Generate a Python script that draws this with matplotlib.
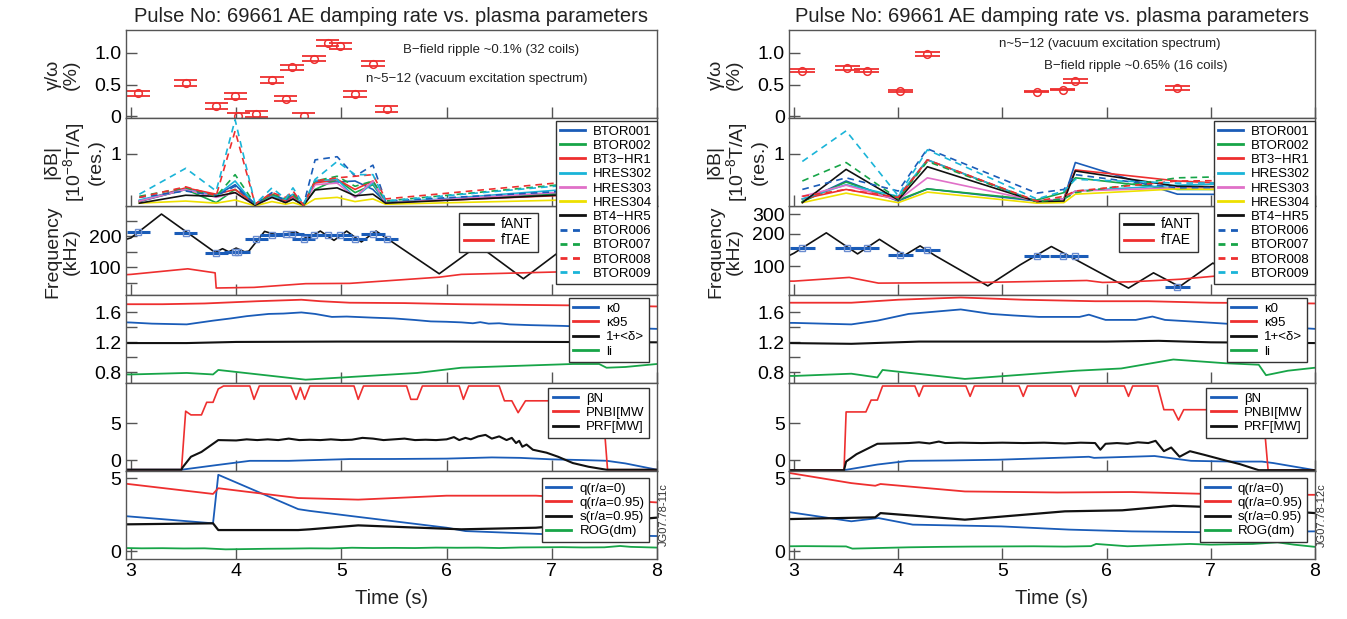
import matplotlib.pyplot as plt
import numpy as np

plt.rcParams['font.family'] = ['Liberation Sans', 'DejaVu Sans']
plt.rcParams['mathtext.fontset'] = 'custom'
plt.rcParams['mathtext.rm'] = 'Liberation Sans'
plt.rcParams['mathtext.it'] = 'Liberation Sans:italic'

# ---------------- left pulse (32 coils) ----------------
L_t_gam = [3.07, 3.52, 3.81, 3.99, 4.02, 4.19, 4.34, 4.47, 4.53, 4.64, 4.74, 4.87, 4.99, 5.13, 5.30, 5.43]
L_gam = [0.36, 0.52, 0.165, 0.32, 0.0, 0.04, 0.57, 0.28, 0.77, 0.0, 0.91, 1.16, 1.11, 0.35, 0.83, 0.12]
L_freq_pts = [214, 211, 145, 150, 150, 193, 205, 207, 208, 193, 205, 205, 203, 190, 208, 190]

L_t_db = [3.08, 3.52, 3.81, 3.99, 4.18, 4.34, 4.47, 4.54, 4.64, 4.75, 4.96, 5.13, 5.30, 5.42, 8.0]
L_BTOR001 = [0.09, 0.32, 0.21, 0.41, 0.04, 0.21, 0.09, 0.19, 0.02, 0.48, 0.46, 0.48, 0.32, 0.07, 0.35]
L_BTOR002 = [0.10, 0.32, 0.07, 0.32, 0.04, 0.20, 0.07, 0.14, 0.02, 0.32, 0.51, 0.26, 0.41, 0.07, 0.33]
L_BT3_HR1 = [0.10, 0.35, 0.23, 0.32, 0.04, 0.23, 0.10, 0.19, 0.04, 0.44, 0.51, 0.32, 0.48, 0.07, 0.28]
L_HRES302 = [0.12, 0.32, 0.20, 0.48, 0.02, 0.19, 0.14, 0.23, 0.02, 0.49, 0.51, 0.17, 0.44, 0.06, 0.45]
L_HRES303 = [0.10, 0.32, 0.17, 0.26, 0.02, 0.17, 0.07, 0.15, 0.02, 0.41, 0.44, 0.17, 0.48, 0.06, 0.38]
L_HRES304 = [0.06, 0.10, 0.06, 0.12, 0.01, 0.09, 0.04, 0.07, 0.01, 0.14, 0.17, 0.09, 0.14, 0.04, 0.16]
L_BT4_HR5 = [0.06, 0.21, 0.19, 0.26, 0.02, 0.17, 0.07, 0.14, 0.02, 0.31, 0.35, 0.20, 0.23, 0.06, 0.30]
L_BTOR006 = [0.17, 0.29, 0.20, 0.38, 0.04, 0.26, 0.10, 0.26, 0.02, 0.88, 0.94, 0.57, 0.78, 0.10, 0.38]
L_BTOR007 = [0.19, 0.35, 0.19, 0.60, 0.04, 0.23, 0.14, 0.23, 0.02, 0.48, 0.57, 0.38, 0.48, 0.10, 0.58]
L_BTOR008 = [0.17, 0.37, 0.20, 1.43, 0.04, 0.26, 0.17, 0.29, 0.02, 0.48, 0.54, 0.57, 0.60, 0.14, 0.62]
L_BTOR009 = [0.23, 0.72, 0.29, 1.64, 0.04, 0.35, 0.14, 0.35, 0.04, 0.51, 0.85, 0.60, 0.60, 0.10, 0.55]

L_t_fant = [2.95, 3.0, 3.29, 3.80, 3.87, 3.93, 4.0, 4.08, 4.12, 4.27, 4.40, 4.57, 4.68, 4.80, 4.93,
            5.05, 5.19, 5.33, 5.93, 6.30, 6.73, 7.07, 7.5, 8.0]
L_fant = [190, 195, 272, 148, 160, 150, 162, 150, 152, 216, 203, 214, 193, 217, 187,
          217, 182, 217, 79, 171, 63, 150, 230, 160]
L_t_ftae = [2.95, 3.0, 3.54, 3.80, 3.81, 4.17, 4.66, 5.08, 5.93, 6.14, 7.07, 8.0]
L_ftae = [76, 77, 95, 82, 33, 35, 47, 48, 68, 77, 85, 90]

L_t_k0 = [2.95, 3.0, 3.2, 3.53, 3.78, 3.95, 4.1, 4.31, 4.45, 4.62, 4.75, 4.91, 5.05, 5.3, 5.5, 5.69,
          5.85, 6.0, 6.14, 6.25, 6.32, 6.4, 6.5, 6.6, 6.8, 7.1, 7.5, 8.0]
L_k0 = [1.467, 1.465, 1.45, 1.44, 1.49, 1.52, 1.55, 1.58, 1.585, 1.60, 1.58, 1.54, 1.545, 1.53, 1.52, 1.50,
        1.48, 1.475, 1.467, 1.455, 1.47, 1.45, 1.455, 1.44, 1.43, 1.42, 1.40, 1.38]
L_t_k95 = [2.95, 3.3, 3.7, 4.2, 4.62, 4.8, 5.08, 5.6, 6.14, 6.8, 7.5, 8.0]
L_k95 = [1.71, 1.71, 1.72, 1.75, 1.77, 1.75, 1.73, 1.725, 1.71, 1.70, 1.69, 1.68]
L_t_d = [2.95, 3.53, 4.0, 5.0, 6.0, 7.0, 8.0]
L_d = [1.19, 1.19, 1.205, 1.21, 1.21, 1.205, 1.20]
L_t_li = [2.95, 3.0, 3.53, 3.78, 3.83, 4.66, 5.72, 6.14, 7.2, 7.45, 7.52, 7.7, 8.0]
L_li = [0.77, 0.77, 0.79, 0.77, 0.83, 0.70, 0.79, 0.86, 0.91, 0.91, 0.86, 0.87, 0.91]

L_t_nbi = [2.95, 3.48, 3.52, 3.57, 3.67, 3.72, 3.78, 3.83, 3.88, 4.13, 4.17, 4.22, 4.52, 4.57, 4.61, 4.65,
           4.70, 5.12, 5.16, 5.21, 5.62, 5.66, 5.72, 5.77, 6.12, 6.16, 6.21, 6.50, 6.55, 6.62, 6.68,
           6.75, 7.48, 7.53, 8.0]
L_nbi = [-1.3, -1.3, 6.6, 6.1, 6.1, 7.8, 7.8, 9.6, 10.0, 10.0, 8.2, 10.0, 10.0, 8.2, 9.8, 8.2,
         10.0, 10.0, 8.2, 10.0, 10.0, 8.2, 8.2, 10.0, 10.0, 8.2, 10.0, 10.0, 8.0, 8.0, 6.4,
         8.0, 8.0, -1.3, -1.3]
L_t_prf = [2.95, 3.48, 3.49, 3.57, 3.67, 3.83, 4.0, 4.1, 4.2, 4.3, 4.4, 4.5, 4.6, 4.7, 4.8, 4.9, 5.0,
           5.1, 5.2, 5.3, 5.4, 5.5, 5.6, 5.7, 5.8, 5.9, 6.0, 6.07, 6.12, 6.18, 6.23, 6.30, 6.37, 6.43,
           6.50, 6.57, 6.62, 6.66, 6.69, 6.72, 6.76, 6.82, 6.95, 7.06, 7.20, 7.35, 7.52, 8.0]
L_prf = [-1.3, -1.3, -1.0, 0.45, 1.1, 2.7, 2.65, 2.8, 2.7, 2.8, 2.7, 2.9, 2.7, 2.75, 2.7, 2.8, 2.7,
         2.75, 3.0, 2.9, 2.7, 2.8, 2.9, 2.7, 2.75, 2.7, 2.8, 3.1, 2.7, 3.0, 2.8, 3.2, 3.4, 2.9,
         3.2, 2.7, 3.0, 2.3, 2.6, 1.8, 2.1, 1.4, 1.0, 0.45, -0.4, -0.9, -1.3, -1.3]
L_t_bn = [2.95, 3.48, 3.8, 4.13, 4.5, 5.08, 5.5, 6.0, 6.43, 6.7, 7.0, 7.3, 7.52, 7.7, 8.0]
L_bn = [-1.3, -1.3, -0.7, -0.1, -0.1, 0.14, 0.15, 0.2, 0.36, 0.3, 0.1, 0.0, -0.09, -0.45, -1.3]

L_t_q0 = [2.95, 3.78, 3.83, 4.59, 4.70, 5.08, 6.0, 6.18, 7.0, 8.0]
L_q0 = [2.4, 1.91, 5.23, 2.88, 2.76, 2.42, 1.61, 1.38, 1.15, 1.04]
L_t_q95 = [2.95, 3.78, 3.83, 4.59, 5.16, 6.0, 6.85, 8.0]
L_q95 = [4.62, 3.92, 4.31, 3.64, 3.53, 3.80, 3.80, 3.34]
L_t_s = [2.95, 3.78, 3.83, 4.59, 4.7, 5.16, 6.14, 6.85, 8.0]
L_s = [1.84, 1.91, 1.45, 1.45, 1.5, 1.77, 1.5, 1.61, 2.30]
L_t_rog = [2.95, 3.1, 3.3, 3.5, 3.7, 3.9, 4.1, 4.3, 4.5, 4.7, 4.9, 5.1, 5.3, 5.5, 5.7, 5.9, 6.1, 6.3,
           6.5, 6.7, 6.9, 7.1, 7.3, 7.5, 7.65, 7.75, 8.0]
L_rog = [0.22, 0.2, 0.21, 0.19, 0.2, 0.13, 0.15, 0.17, 0.18, 0.2, 0.19, 0.24, 0.22, 0.23, 0.22, 0.25,
         0.24, 0.25, 0.22, 0.26, 0.27, 0.28, 0.26, 0.27, 0.36, 0.3, 0.25]

# ---------------- right pulse (16 coils) ----------------
R_t_gam = [3.08, 3.51, 3.70, 4.02, 4.28, 5.33, 5.58, 5.70, 6.68]
R_gam = [0.72, 0.755, 0.72, 0.40, 0.98, 0.39, 0.42, 0.56, 0.45]
R_gam_dy = [0.03, 0.03, 0.03, 0.01, 0.03, 0.01, 0.01, 0.03, 0.03]
R_freq_pts = [146, 148, 148, 127, 141, 124, 124, 125, 65]

R_t_db = [3.08, 3.50, 4.00, 4.28, 5.33, 5.59, 5.70, 6.68, 8.0]
R_BTOR001 = [0.09, 0.48, 0.10, 0.33, 0.10, 0.14, 0.83, 0.23, 0.22]
R_BTOR002 = [0.09, 0.46, 0.12, 0.33, 0.12, 0.26, 0.54, 0.32, 0.32]
R_BT3_HR1 = [0.14, 0.32, 0.14, 0.88, 0.09, 0.14, 0.69, 0.48, 0.35]
R_HRES302 = [0.14, 0.41, 0.19, 0.88, 0.09, 0.14, 0.29, 0.40, 0.48]
R_HRES303 = [0.19, 0.40, 0.12, 0.54, 0.10, 0.14, 0.29, 0.35, 0.35]
R_HRES304 = [0.07, 0.25, 0.07, 0.27, 0.06, 0.07, 0.23, 0.33, 0.30]
R_BT4_HR5 = [0.07, 0.70, 0.12, 0.75, 0.09, 0.10, 0.67, 0.38, 0.35]
R_BTOR006 = [0.32, 0.54, 0.29, 1.09, 0.25, 0.32, 0.60, 0.35, 0.38]
R_BTOR007 = [0.48, 0.83, 0.14, 0.85, 0.09, 0.14, 0.26, 0.54, 0.60]
R_BTOR008 = [0.19, 0.32, 0.17, 0.88, 0.10, 0.19, 0.29, 0.48, 0.50]
R_BTOR009 = [0.85, 1.43, 0.20, 1.07, 0.14, 0.29, 0.51, 0.44, 0.45]

R_t_fant = [2.95, 3.0, 3.31, 3.61, 3.82, 4.06, 4.21, 4.35, 4.86, 5.17, 5.47, 6.21, 6.45, 6.70, 7.02, 7.35, 7.7, 8.0]
R_fant = [125, 132, 203, 130, 177, 126, 154, 126, 66, 103, 152, 63, 87, 65, 107, 69, 110, 95]
R_t_ftae = [2.95, 3.0, 3.53, 3.81, 4.81, 5.81, 5.96, 6.24, 6.71, 7.03, 8.0]
R_ftae = [73, 73, 79, 70, 71, 74, 71, 72, 76, 81, 85]

R_t_k0 = [2.95, 3.0, 3.55, 3.8, 4.10, 4.35, 4.6, 4.89, 5.1, 5.35, 5.74, 5.83, 5.99, 6.28, 6.44, 6.56,
          6.8, 7.14, 7.5, 8.0]
R_k0 = [1.46, 1.46, 1.44, 1.49, 1.58, 1.61, 1.64, 1.58, 1.56, 1.54, 1.54, 1.57, 1.50, 1.50, 1.545, 1.50,
        1.48, 1.45, 1.42, 1.38]
R_t_k95 = [2.95, 3.55, 4.0, 4.6, 5.2, 5.89, 6.4, 7.0, 8.0]
R_k95 = [1.73, 1.73, 1.77, 1.80, 1.77, 1.75, 1.75, 1.73, 1.72]
R_t_d = [2.95, 3.55, 4.2, 5.0, 6.0, 6.5, 7.0, 8.0]
R_d = [1.19, 1.18, 1.21, 1.21, 1.21, 1.22, 1.20, 1.19]
R_t_li = [2.95, 3.0, 3.55, 3.80, 3.85, 4.64, 5.71, 6.14, 6.64, 7.14, 7.46, 7.53, 7.74, 8.0]
R_li = [0.75, 0.75, 0.78, 0.73, 0.83, 0.71, 0.82, 0.85, 0.97, 0.92, 0.90, 0.76, 0.82, 0.86]

R_t_nbi = [2.95, 3.48, 3.50, 3.69, 3.74, 3.80, 3.85, 4.16, 4.20, 4.24, 4.65, 4.69, 4.73, 5.16, 5.20,
           5.24, 5.66, 5.70, 5.74, 6.17, 6.21, 6.25, 6.49, 6.55, 6.64, 6.69, 6.74, 7.50, 7.55, 8.0]
R_nbi = [-1.36, -1.36, 6.5, 6.5, 8.1, 8.1, 10.0, 10.0, 8.6, 10.0, 10.0, 8.6, 10.0, 10.0, 8.6,
         10.0, 10.0, 8.6, 10.0, 10.0, 8.6, 10.0, 10.0, 6.8, 6.8, 5.4, 6.8, 6.8, -1.36, -1.36]
R_t_prf = [2.95, 3.48, 3.50, 3.60, 3.80, 3.95, 4.1, 4.2, 4.3, 4.39, 4.45, 4.6, 4.8, 5.0, 5.2, 5.4,
           5.6, 5.75, 5.89, 5.94, 5.99, 6.1, 6.2, 6.3, 6.4, 6.47, 6.55, 6.62, 6.70, 6.80, 6.94,
           7.10, 7.28, 7.46, 8.0]
R_prf = [-1.36, -1.36, -0.2, 0.8, 2.2, 2.25, 2.3, 2.4, 2.25, 2.5, 2.3, 2.35, 2.3, 2.35, 2.3, 2.35,
         2.25, 2.35, 2.3, 1.4, 2.2, 2.3, 2.2, 2.4, 2.3, 2.6, 1.2, 1.7, 0.45, 1.2, 0.7,
         0.1, -0.55, -1.36, -1.36]
R_t_bn = [2.95, 3.48, 3.8, 4.1, 4.5, 4.96, 5.4, 5.83, 5.88, 6.0, 6.46, 6.81, 7.2, 7.49, 7.6, 8.0]
R_bn = [-1.36, -1.36, -0.6, -0.1, -0.05, 0.05, 0.25, 0.45, 0.3, 0.35, 0.55, -0.1, -0.2, -0.2, -0.4, -1.36]

R_t_q0 = [2.95, 3.55, 3.81, 4.14, 4.99, 5.64, 6.24, 6.96, 8.0]
R_q0 = [2.68, 2.05, 2.27, 1.82, 1.70, 1.48, 1.36, 1.30, 1.36]
R_t_q95 = [2.95, 3.55, 3.78, 3.83, 4.1, 4.64, 5.53, 6.24, 7.31, 8.0]
R_q95 = [5.36, 4.66, 4.48, 4.6, 4.43, 4.09, 4.02, 4.05, 3.86, 3.86]
R_t_s = [2.95, 3.78, 3.83, 4.64, 5.6, 6.15, 6.64, 7.31, 8.0]
R_s = [2.2, 2.32, 2.61, 2.16, 2.73, 2.80, 3.11, 2.95, 2.61]
R_t_rog = [2.95, 3.1, 3.3, 3.5, 3.56, 3.8, 4.1, 4.4, 4.7, 5.0, 5.3, 5.6, 5.85, 5.9, 6.2, 6.5, 6.8,
           7.0, 7.2, 7.4, 7.64, 7.8, 8.0]
R_rog = [0.34, 0.35, 0.34, 0.33, 0.18, 0.22, 0.27, 0.3, 0.32, 0.33, 0.34, 0.32, 0.35, 0.5, 0.34, 0.42,
         0.5, 0.45, 0.48, 0.5, 0.61, 0.45, 0.30]

coil_names = ['BTOR001', 'BTOR002', 'BT3\u2212HR1', 'HRES302', 'HRES303', 'HRES304',
              'BT4\u2212HR5', 'BTOR006', 'BTOR007', 'BTOR008', 'BTOR009']

# colours
BLUE = '#1a5cb8'
GREEN = '#17a548'
RED = '#ee2f2f'
CYAN = '#1ab4d8'
MAG = '#e070c8'
YEL = '#eee000'
BLK = '#111111'
GRAY = '#555555'

coil_colors = [BLUE, GREEN, RED, CYAN, MAG, YEL, BLK, BLUE, GREEN, RED, CYAN]
coil_styles = ['-'] * 7 + ['--'] * 4

fig = plt.figure(figsize=(13.47, 6.19), dpi=100)
fig.patch.set_facecolor('white')

bottom = 1 - 559 / 619
top = 1 - 30 / 619
h = (top - bottom) / 6


def make_axes(x0, w):
    axs = []
    for i in range(6):
        ax = fig.add_axes([x0, bottom + (5 - i) * h, w, h])
        ax.set_xlim(2.95, 8.0)
        ax.set_xticks([3, 4, 5, 6, 7, 8])
        ax.tick_params(direction='in', length=8, width=1, color=GRAY, labelsize=14,
                       top=False, right=False, pad=3)
        ax.tick_params(which='minor', direction='in', length=8, width=1, color=GRAY)
        for sp in ax.spines.values():
            sp.set_color(GRAY)
            sp.set_linewidth(1)
        if i < 5:
            ax.tick_params(labelbottom=False)
        axs.append(ax)
    return axs


def leg(ax, anchor, loc='upper right', fs=9.5, hlen=1.9):
    lg = ax.legend(loc=loc, bbox_to_anchor=anchor, fontsize=fs, fancybox=False,
                   edgecolor='#333333', framealpha=1, borderpad=0.35, labelspacing=0.15,
                   handlelength=hlen, handletextpad=0.6, borderaxespad=0)
    lg.get_frame().set_linewidth(1)
    for hl in lg.get_lines():
        hl.set_linewidth(2)
    return lg


def draw(axs, t_gam, gam, gw, gdy, txt, t_db, coils, freq_pts, fw, t_fant, fant, t_ftae, ftae,
         k0, k95, dd, li, nbi, prf, bn, q0, q95, ss, rog, logf, tag, xlab_x):
    ax1, ax2, ax3, ax4, ax5, ax6 = axs

    # damping rate with time-window bars
    t_gam = np.array(t_gam)
    gam = np.array(gam)
    gdy = np.array(gdy)
    ax1.hlines(gam + gdy, t_gam - gw, t_gam + gw, color=RED, lw=1.3)
    ax1.hlines(gam - gdy, t_gam - gw, t_gam + gw, color=RED, lw=1.3)
    ax1.plot(t_gam, gam, 'o', mfc='none', mec=RED, ms=5.5, mew=1.1)
    ax1.set_ylim(-0.03, 1.36)
    ax1.set_yticks([0, 0.5, 1.0])
    ax1.set_yticklabels(['0', '0.5', '1.0'])
    for (tx, ty, s) in txt:
        ax1.text(tx, ty, s, fontsize=9.5, ha='center', va='center', color='#222222')
    ax1.set_title('Pulse No: 69661 AE damping rate vs. plasma parameters', fontsize=14.5, pad=6,
                  color='#222222')

    # delta B amplitudes
    for vals, c, ls, name in zip(coils, coil_colors, coil_styles, coil_names):
        if ls == '--':
            ax2.plot(t_db, vals, color=c, lw=1.2, dashes=(4, 3), label=name)
        else:
            ax2.plot(t_db, vals, color=c, lw=1.2, label=name)
    ax2.set_ylim(0, 1.67)
    ax2.set_yticks([1])
    ax2.set_zorder(5)
    lg = leg(ax2, (1.0, 0.97))
    for hl in lg.get_lines()[7:]:
        hl.set_dashes((2.5, 2))

    # frequency
    ax3.plot(t_fant, fant, color=BLK, lw=1.2, label='fANT')
    ax3.plot(t_ftae, ftae, color=RED, lw=1.2, label='fTAE')
    ax3.hlines(freq_pts, t_gam - fw, t_gam + fw, color=BLUE, lw=2.2)
    ax3.plot(t_gam, freq_pts, 's', mfc='none', mec='#6a8cd0', ms=5, mew=1)
    if logf:
        ax3.set_yscale('log')
        ax3.set_ylim(55, 356)
        ax3.set_yticks([100, 200, 300])
        ax3.set_yticklabels(['100', '200', '300'])
        ax3.yaxis.set_minor_locator(plt.NullLocator())
    else:
        ax3.set_ylim(12, 297)
        ax3.set_yticks([100, 200])
        ax3.set_yticks([50, 150, 250], minor=True)
    leg(ax3, (0.627, 0.93), loc='upper left', fs=10, hlen=2.1)

    # shape
    ax4.plot(k0[0], k0[1], color=BLUE, lw=1.3, label='\u03ba0')
    ax4.plot(k95[0], k95[1], color=RED, lw=1.3, label='\u03ba95')
    ax4.plot(dd[0], dd[1], color=BLK, lw=1.5, label='1+<\u03b4>')
    ax4.plot(li[0], li[1], color=GREEN, lw=1.3, label='li')
    ax4.set_ylim(0.66, 1.84)
    ax4.set_yticks([0.8, 1.2, 1.6])
    ax4.set_yticks([1.0, 1.4], minor=True)
    leg(ax4, (0.985, 0.96))

    # heating
    ax5.plot(bn[0], bn[1], color=BLUE, lw=1.3, label='\u03b2N')
    ax5.plot(nbi[0], nbi[1], color=RED, lw=1.2, label='PNBI[MW')
    ax5.plot(prf[0], prf[1], color=BLK, lw=1.5, label='PRF[MW]')
    ax5.set_ylim(-1.45, 10.45)
    ax5.set_yticks([0, 5])
    leg(ax5, (0.985, 0.94))

    # q profile
    ax6.plot(q0[0], q0[1], color=BLUE, lw=1.3, label='q(r/a=0)')
    ax6.plot(q95[0], q95[1], color=RED, lw=1.3, label='q(r/a=0.95)')
    ax6.plot(ss[0], ss[1], color=BLK, lw=1.6, label='s(r/a=0.95)')
    ax6.plot(rog[0], rog[1], color=GREEN, lw=1.3, label='ROG(dm)')
    ax6.set_ylim(-0.53, 5.5)
    ax6.set_yticks([0, 5])
    leg(ax6, (0.985, 0.92))
    ax6.set_xlabel('Time (s)', fontsize=14.5, labelpad=6, color='#222222')
    ax6.text(1.012, 0.5, tag, transform=ax6.transAxes, rotation=90, fontsize=8,
             ha='center', va='center', color='#333333')

    # y labels
    lab = dict(rotation=90, ha='center', va='center', fontsize=14, color='#222222',
               linespacing=1.05)
    fig.text(xlab_x / 1347, 1 - 75 / 619, '\u03b3/\u03c9\n(%)', **lab)
    fig.text((xlab_x + 12) / 1347, 1 - 162 / 619, '|\u03b4B|\n[10$^{-8}$T/A]\n(res.)', **lab)
    fig.text(xlab_x / 1347, 1 - 252 / 619, 'Frequency\n(kHz)', **lab)


L_axes = make_axes(125.7 / 1347, 531.3 / 1347)
R_axes = make_axes(788.8 / 1347, 526.2 / 1347)

draw(L_axes, L_t_gam, L_gam, 0.11, 0.045,
     [(6.42, 1.04, 'B\u2212field ripple ~0.1% (32 coils)'),
      (6.29, 0.58, 'n~5\u221212 (vacuum excitation spectrum)')],
     L_t_db, [L_BTOR001, L_BTOR002, L_BT3_HR1, L_HRES302, L_HRES303, L_HRES304, L_BT4_HR5,
              L_BTOR006, L_BTOR007, L_BTOR008, L_BTOR009],
     L_freq_pts, 0.11, L_t_fant, L_fant, L_t_ftae, L_ftae,
     (L_t_k0, L_k0), (L_t_k95, L_k95), (L_t_d, L_d), (L_t_li, L_li),
     (L_t_nbi, L_nbi), (L_t_prf, L_prf), (L_t_bn, L_bn),
     (L_t_q0, L_q0), (L_t_q95, L_q95), (L_t_s, L_s), (L_t_rog, L_rog),
     False, 'JG07.78-11c', 62)

draw(R_axes, R_t_gam, R_gam, 0.12, R_gam_dy,
     [(6.03, 1.14, 'n~5\u221212 (vacuum excitation spectrum)'),
      (6.28, 0.80, 'B\u2212field ripple ~0.65% (16 coils)')],
     R_t_db, [R_BTOR001, R_BTOR002, R_BT3_HR1, R_HRES302, R_HRES303, R_HRES304, R_BT4_HR5,
              R_BTOR006, R_BTOR007, R_BTOR008, R_BTOR009],
     R_freq_pts, 0.12, R_t_fant, R_fant, R_t_ftae, R_ftae,
     (R_t_k0, R_k0), (R_t_k95, R_k95), (R_t_d, R_d), (R_t_li, R_li),
     (R_t_nbi, R_nbi), (R_t_prf, R_prf), (R_t_bn, R_bn),
     (R_t_q0, R_q0), (R_t_q95, R_q95), (R_t_s, R_s), (R_t_rog, R_rog),
     True, 'JG07.78-12c', 725)

fig.savefig('out.png', dpi=100)
